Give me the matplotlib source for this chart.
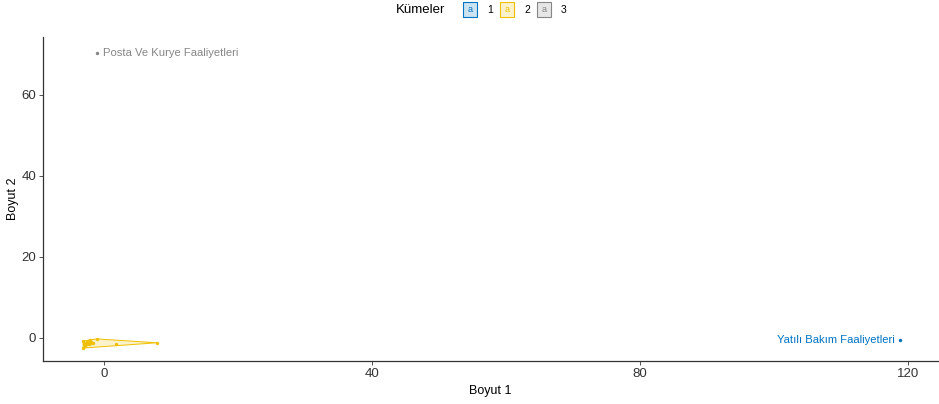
import matplotlib.pyplot as plt
import matplotlib.patches as patches
import numpy as np

plt.rcParams['font.family'] = ['Liberation Sans', 'DejaVu Sans']

# --- data ---
dim1 = [118.9, -1.0,
        -3.1, -3.1, -2.9, -2.1, -1.0, 1.8, 7.9,
        -2.8, -2.5, -2.3, -2.0, -2.6, -1.9, -2.4, -3.0, -1.7]
dim2 = [-0.5, 70.4,
        -0.8, -2.5, -1.9, -0.5, -0.25, -1.55, -1.2,
        -1.3, -1.0, -1.5, -1.2, -1.6, -0.9, -0.7, -1.4, -1.3]
cluster = [1, 3] + [2] * 16
point_labels = ["Yatılı Bakım Faaliyetleri", "Posta Ve Kurye Faaliyetleri"] + [""] * 16

cluster_ids = [1, 2, 3]
cluster_colors = {1: "#0073C2", 2: "#EFC000", 3: "#868686"}
x_ticks = [0, 40, 80, 120]
y_ticks = [0, 20, 40, 60]

W, H = 939, 404
fig = plt.figure(figsize=(W / 100, H / 100), dpi=100)
ax = fig.add_axes([43 / W, 1 - 361 / H, (938 - 43) / W, (361 - 37) / H])


def hull(pts):
    pts = sorted(set(pts))
    if len(pts) < 3:
        return pts

    def cross(o, a, b):
        return (a[0] - o[0]) * (b[1] - o[1]) - (a[1] - o[1]) * (b[0] - o[0])
    lower, upper = [], []
    for p in pts:
        while len(lower) >= 2 and cross(lower[-2], lower[-1], p) <= 0:
            lower.pop()
        lower.append(p)
    for p in reversed(pts):
        while len(upper) >= 2 and cross(upper[-2], upper[-1], p) <= 0:
            upper.pop()
        upper.append(p)
    return lower[:-1] + upper[:-1]


x = np.array(dim1)
y = np.array(dim2)
cl = np.array(cluster)

for c in cluster_ids:
    m = cl == c
    col = cluster_colors[c]
    pts = list(zip(x[m], y[m]))
    h = hull(pts)
    if len(h) >= 3:
        ax.add_patch(patches.Polygon(h, closed=True, facecolor=col, alpha=0.2, edgecolor="none"))
        ax.add_patch(patches.Polygon(h, closed=True, facecolor="none", edgecolor=col, lw=0.7))
    ax.scatter(x[m], y[m], s=6, color=col, zorder=3, linewidths=0)

# text labels
for xi, yi, c, lab in zip(dim1, dim2, cluster, point_labels):
    if not lab:
        continue
    if xi > 60:
        ax.text(xi - 0.8, yi, lab, color=cluster_colors[c], fontsize=8.1,
                ha="right", va="center")
    else:
        ax.text(xi + 0.8, yi, lab, color=cluster_colors[c], fontsize=8.1,
                ha="left", va="center")

ax.set_xlim(-9.1, 124.5)
ax.set_ylim(-5.7, 74.3)
ax.set_xticks(x_ticks)
ax.set_yticks(y_ticks)
ax.tick_params(labelsize=9.5, labelcolor="#333333", color="#333333", length=3, width=0.6,
               pad=1.8)
for s in ["top", "right"]:
    ax.spines[s].set_visible(False)
for s in ["left", "bottom"]:
    ax.spines[s].set_linewidth(0.9)
    ax.spines[s].set_color("#333333")
ax.set_xlabel("Boyut 1", fontsize=9, labelpad=4)
ax.set_ylabel("Boyut 2", fontsize=9, labelpad=2)

# legend on top (drawn by hand in pixels)
def fx(px):
    return px / W


def fy(py):
    return 1 - py / H


fig.text(fx(396), fy(10), "Kümeler", fontsize=9.5, ha="left", va="center")
key_x = [463, 500, 537]
for kx, c in zip(key_x, cluster_ids):
    col = cluster_colors[c]
    fig.add_artist(patches.Rectangle((fx(kx), fy(17)), 14 / W, 15 / H,
                                     transform=fig.transFigure, facecolor=col, alpha=0.2,
                                     edgecolor="none"))
    fig.add_artist(patches.Rectangle((fx(kx), fy(17)), 14 / W, 15 / H,
                                     transform=fig.transFigure, facecolor="none",
                                     edgecolor=col, lw=0.8))
    fig.text(fx(kx + 7), fy(10), "a", color=col, fontsize=6.5, ha="center", va="center")
    fig.text(fx(kx + 24), fy(10), str(c), fontsize=7.5, ha="left", va="center")

fig.savefig("out.png", dpi=100)
